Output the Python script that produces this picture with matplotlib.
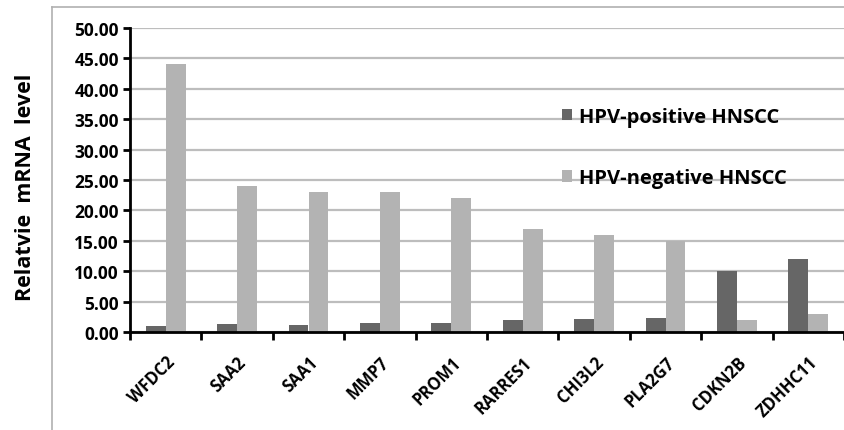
import numpy as np
import matplotlib.pyplot as plt
from matplotlib.lines import Line2D
from matplotlib.transforms import ScaledTranslation

genes = ["WFDC2", "SAA2", "SAA1", "MMP7", "PROM1", "RARRES1", "CHI3L2", "PLA2G7", "CDKN2B", "ZDHHC11"]
hpv_pos = [0.95, 1.3, 1.15, 1.4, 1.4, 1.95, 2.1, 2.3, 10.0, 12.0]
hpv_neg = [44.0, 24.0, 23.0, 23.0, 22.0, 17.0, 16.0, 15.0, 1.95, 3.0]
yticks = [0, 5, 10, 15, 20, 25, 30, 35, 40, 45, 50]

plt.rcParams['font.family'] = ['Open Sans', 'DejaVu Sans']
plt.rcParams['font.weight'] = 'bold'

fig = plt.figure(figsize=(8.45, 4.31), dpi=100)
ax = fig.add_axes([130/845, 1-333/431, 714/845, 304/431])

# outer chart-area border (only top and left visible)
fig.add_artist(Line2D([52/845, 52/845], [0, 1-8/431], color='#b0b0b0', lw=1.2, transform=fig.transFigure))
fig.add_artist(Line2D([52/845, 1], [1-8/431, 1-8/431], color='#b0b0b0', lw=1.2, transform=fig.transFigure))

x = np.arange(len(genes))
w = 0.28
ax.bar(x - w/2, hpv_pos, w, color='#666666', label='HPV-positive HNSCC', zorder=3)
ax.bar(x + w/2, hpv_neg, w, color='#b3b3b3', label='HPV-negative HNSCC', zorder=3)

ax.set_xlim(-0.5, len(genes) - 0.5)
ax.set_ylim(0, 50)
ax.set_yticks(yticks)
ax.set_yticklabels(["%.2f" % v for v in yticks], fontsize=12.5, fontweight='bold')
ax.yaxis.grid(True, color='#bdbdbd', lw=1.6, zorder=0)

ax.set_xticks(np.arange(-0.5, len(genes)), labels=[])
ax.set_xticks(x, minor=True)
ax.set_xticklabels(genes, minor=True, rotation=45, ha='right', rotation_mode='anchor',
                   fontsize=12, fontweight='bold')
shift = ScaledTranslation(6/100, 0, fig.dpi_scale_trans)
for lab in ax.get_xticklabels(minor=True):
    lab.set_transform(lab.get_transform() + shift)
ax.tick_params(axis='x', which='major', direction='out', length=6, width=2)
ax.tick_params(axis='x', which='minor', length=0, pad=15)
ax.tick_params(axis='y', direction='out', length=5, width=2, pad=3)

for s in ['top', 'right']:
    ax.spines[s].set_visible(False)
for s in ['left', 'bottom']:
    ax.spines[s].set_linewidth(2)
    ax.spines[s].set_zorder(4)

ax.set_ylabel("Relatvie  mRNA  level", fontsize=15.5, fontweight='bold')
ax.yaxis.set_label_coords(-0.132, 0.479)

ax.legend(loc='center left', bbox_to_anchor=(0.579, 0.607), frameon=False,
          handlelength=0.5, handleheight=0.5, handletextpad=0.35, labelspacing=2.05,
          prop={'weight': 'bold', 'size': 14.5})

fig.savefig("out.png", dpi=100)
